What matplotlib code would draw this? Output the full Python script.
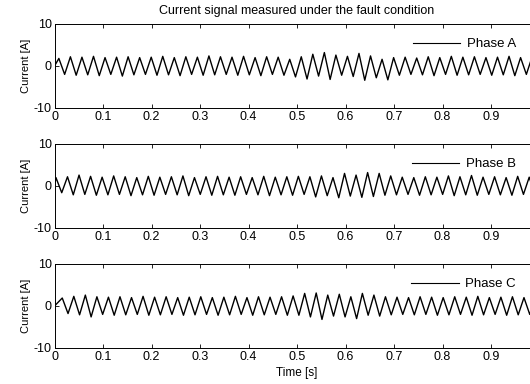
import numpy as np
import matplotlib.pyplot as plt

plt.rcParams['font.family'] = ['Liberation Sans', 'DejaVu Sans']
plt.rcParams['axes.unicode_minus'] = False

# peak / trough values per cycle (about 42 cycles per second)
period = 0.0238
start = {'Phase A': 0.009, 'Phase B': 0.003, 'Phase C': 0.016}

peaks_a = [1.8, 2.2, 2.1, 2.3, 2.0, 2.1, 2.2, 2.0, 2.1, 2.3, 2.0, 2.2, 2.1, 2.4, 2.2, 2.1, 2.3, 2.0, 2.2, 2.1,
           1.6, 2.2, 2.8, 3.2, 2.6, 2.3, 3.0, 2.4, 1.6, 2.0,
           2.1, 1.9, 2.2, 2.0, 2.3, 2.1, 2.2, 2.0, 2.1, 2.3, 2.0, 2.2, 2.1]
troughs_a = [-2.0, -2.2, -2.1, -2.3, -2.0, -2.4, -2.1, -2.0, -2.2, -2.1, -2.3, -2.0, -2.2, -2.1, -2.0, -2.2, -2.1, -2.3, -2.0, -2.2,
             -2.6, -3.1, -2.4, -3.2, -2.2, -2.5, -3.4, -2.8, -3.3, -2.2,
             -2.0, -2.1, -2.3, -2.0, -2.2, -2.1, -2.0, -2.2, -2.1, -2.3, -2.0, -2.2, -2.1]

peaks_b = [2.0, 2.2, 2.6, 2.3, 2.1, 2.4, 2.2, 2.0, 2.3, 2.1, 2.2, 2.4, 2.0, 2.2, 2.3, 2.1, 2.2, 2.0, 2.3, 2.1,
           2.2, 2.3, 2.2, 2.4, 2.0, 3.0, 2.6, 3.2, 3.0, 2.4,
           2.1, 2.0, 2.2, 2.1, 2.4, 2.2, 2.5, 2.1, 2.2, 2.0, 2.3, 2.1, 2.2]
troughs_b = [-1.6, -2.1, -2.0, -2.2, -2.1, -2.0, -2.3, -2.1, -2.2, -2.0, -2.1, -2.3, -2.0, -2.2, -2.1, -2.2, -2.0, -2.1, -2.3, -2.1,
             -2.2, -2.0, -2.6, -2.3, -2.8, -2.4, -2.7, -2.5, -2.2, -2.1,
             -2.0, -2.2, -2.1, -2.0, -2.3, -2.1, -2.2, -2.0, -2.1, -2.2, -2.0, -2.1, -2.2]

peaks_c = [1.9, 2.3, 2.6, 2.2, 2.1, 2.2, 2.0, 2.3, 2.1, 2.2, 2.0, 2.1, 2.2, 2.0, 2.1, 2.3, 2.0, 2.2, 2.1, 2.2,
           2.4, 3.0, 3.1, 2.6, 2.8, 2.2, 3.0, 2.6, 2.2, 2.1,
           2.0, 2.2, 2.1, 2.0, 2.2, 2.1, 2.3, 2.0, 2.1, 2.2, 2.0, 2.1, 2.2]
troughs_c = [-1.8, -2.1, -2.6, -2.0, -2.2, -2.1, -2.0, -2.2, -2.1, -2.0, -2.2, -2.1, -2.0, -2.2, -2.1, -2.0, -2.2, -2.1, -2.0, -2.2,
             -2.2, -2.6, -3.2, -2.4, -2.6, -3.0, -2.2, -2.4, -2.1, -2.0,
             -2.1, -2.0, -2.2, -2.1, -2.0, -2.2, -2.1, -2.0, -2.2, -2.1, -2.0, -2.1, -2.2]

phases = ['Phase A', 'Phase B', 'Phase C']
peak_data = {'Phase A': peaks_a, 'Phase B': peaks_b, 'Phase C': peaks_c}
trough_data = {'Phase A': troughs_a, 'Phase B': troughs_b, 'Phase C': troughs_c}

x_ticks = [0, 0.1, 0.2, 0.3, 0.4, 0.5, 0.6, 0.7, 0.8, 0.9, 1.0]
x_tick_labels = ['0', '0.1', '0.2', '0.3', '0.4', '0.5', '0.6', '0.7', '0.8', '0.9', '']

fig = plt.figure(figsize=(5.3, 3.84), dpi=100)
tops = [24, 144, 264]
panel_h = 84

for i, ph in enumerate(phases):
    top = tops[i]
    ax = fig.add_axes([54.5 / 530, 1 - (top + panel_h) / 384, 485 / 530, panel_h / 384])

    pk = peak_data[ph]
    tr = trough_data[ph]
    n = len(pk)
    t_pk = start[ph] + period * np.arange(n)
    t_tr = t_pk + period / 2
    t = np.empty(2 * n)
    y = np.empty(2 * n)
    t[0::2] = t_pk
    t[1::2] = t_tr
    y[0::2] = pk
    y[1::2] = tr
    t = np.concatenate([[0], t])
    y = np.concatenate([[0], y])

    ax.plot(t, y, color='black', lw=1.0, solid_joinstyle='round', label=ph)
    ax.set_xlim(0, 1)
    ax.set_ylim(-10, 10)
    ax.set_yticks([-10, 0, 10])
    ax.set_xticks(x_ticks)
    ax.set_xticklabels(x_tick_labels)
    ax.tick_params(direction='in', top=True, right=True, labelsize=9, length=3, width=0.6, pad=2)
    for s in ax.spines.values():
        s.set_linewidth(0.7)
    ax.set_ylabel('Current [A]', fontsize=8, labelpad=2)
    leg = ax.legend(loc='center right', bbox_to_anchor=(0.965, 0.76), frameon=False,
                    fontsize=9.5, handlelength=3.6, handletextpad=0.5, borderpad=0)
    for line in leg.get_lines():
        line.set_linewidth(0.8)
    if i == 0:
        ax.set_title('Current signal measured under the fault condition', fontsize=9, pad=7)
    if i == 2:
        ax.set_xlabel('Time [s]', fontsize=8.5, labelpad=3)

fig.savefig('out.png', dpi=100)
